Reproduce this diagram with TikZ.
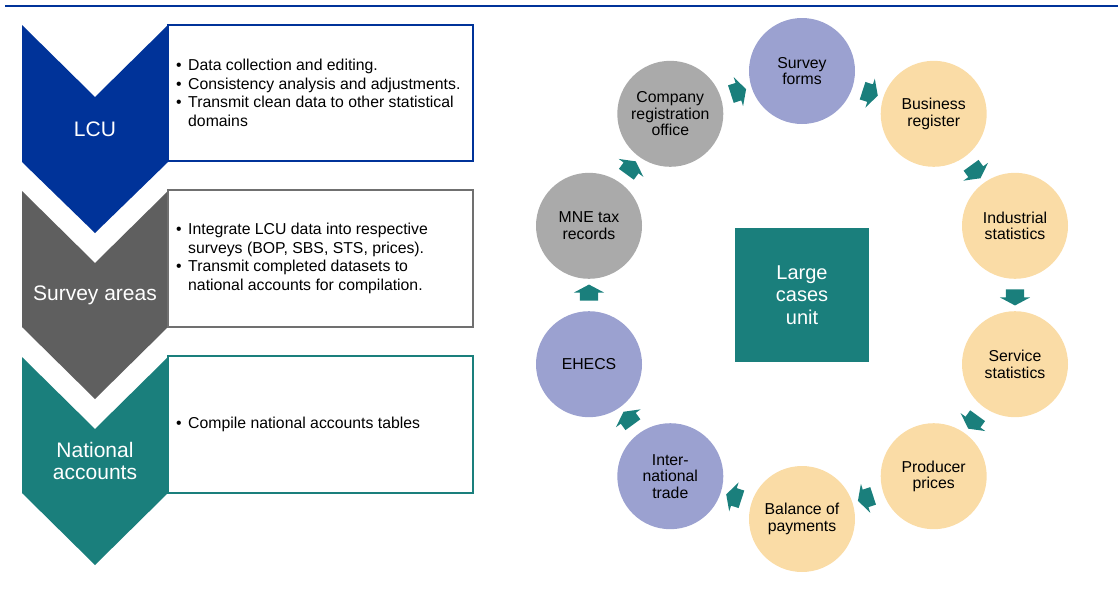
\documentclass[tikz,border=0pt]{standalone}
\usepackage{fontspec}
\setmainfont{Liberation Sans}
\usetikzlibrary{shapes.arrows,calc}
\definecolor{lcublue}{RGB}{0,51,153}
\definecolor{chgray}{RGB}{95,95,95}
\definecolor{boxgray}{RGB}{112,112,112}
\definecolor{tealc}{RGB}{26,127,124}
\definecolor{purp}{RGB}{155,161,208}
\definecolor{peach}{RGB}{250,220,166}
\definecolor{cgray}{RGB}{170,170,170}
\newcommand\mybul{\makebox[12pt][l]{\textbullet}}
\newcommand\myind{\hspace*{12pt}}
\begin{document}
\begin{tikzpicture}[x=1pt,y=-1pt,
  infobox/.style={line width=2pt, fill=white},
  chevlabel/.style={text=white, font=\fontsize{21}{22}\selectfont, align=center, inner sep=0},
  bullets/.style={anchor=west, align=left, inner sep=0, font=\fontsize{15.8}{18.5}\selectfont},
  circ/.style={circle, minimum size=106pt, inner sep=0, align=center, font=\fontsize{15.8}{16.5}\selectfont},
  purpc/.style={circ, fill=purp},
  peachc/.style={circ, fill=peach},
  grayc/.style={circ, fill=cgray},
  blockarrow/.style={single arrow, fill=tealc, inner xsep=0pt, inner ysep=9pt, minimum height=16pt,
    single arrow head extend=6pt, single arrow tip angle=124, sloped, allow upside down}
]
\useasboundingbox (0,0) rectangle (1119,590);

% top rule
\draw[lcublue, line width=2pt] (5,6) -- (1118,6);

% chevrons
\fill[lcublue] (22,25) -- (95,97) -- (168,25) -- (168,162) -- (95,233) -- (22,162) -- cycle;
\fill[chgray] (22,191) -- (95,263) -- (168,191) -- (168,327) -- (95,399) -- (22,327) -- cycle;
\fill[tealc] (22,357) -- (95,429) -- (168,357) -- (168,493) -- (95,565) -- (22,493) -- cycle;

\node[chevlabel] (lcu) at (95,129) {LCU};
\node[chevlabel] (survey) at (95,295) {Survey areas};
\node[chevlabel] (nat) at (95,461) {National\\accounts};

% boxes
\draw[infobox, draw=lcublue] (168,25) rectangle (473,161);
\draw[infobox, draw=boxgray] (168,190) rectangle (473,327);
\draw[infobox, draw=tealc] (168,356) rectangle (473,493);

\node[bullets] (t1) at (176,93) {\mybul Data collection and editing.\\
\mybul Consistency analysis and adjustments.\\
\mybul Transmit clean data to other statistical\\
\myind domains};
\node[bullets] (t2) at (176,258.5) {\mybul Integrate LCU data into respective\\
\myind surveys (BOP, SBS, STS, prices).\\
\mybul Transmit completed datasets to\\
\myind national accounts for compilation.};
\node[bullets] (t3) at (176,424) {\mybul Compile national accounts tables};

% centre box
\node[fill=tealc, minimum size=134pt, inner sep=0, text=white, align=center,
  font=\fontsize{20}{22.5}\selectfont] (lcu2) at (802,295) {Large\\cases\\unit};

% circles
\node[purpc] (c1) at (802,71) {Survey\\forms};
\node[peachc] (c2) at (933.7,113.8) {Business\\register};
\node[peachc] (c3) at (1015,225.8) {Industrial\\statistics};
\node[peachc] (c4) at (1015,364.2) {Service\\statistics};
\node[peachc] (c5) at (933.7,476.2) {Producer\\prices};
\node[peachc] (c6) at (802,519) {Balance of\\payments};
\node[purpc] (c7) at (670.3,476.2) {Inter-\\national\\trade};
\node[purpc] (c8) at (589,364.2) {EHECS};
\node[grayc] (c9) at (589,225.8) {MNE tax\\records};
\node[grayc] (c10) at (670.3,113.8) {Company\\registration\\office};

% block arrows
\path (c1) -- node[blockarrow] (a1) {} (c2);
\path (c2) -- node[blockarrow] (a2) {} (c3);
\path (c3) -- node[blockarrow] (a3) {} (c4);
\path (c4) -- node[blockarrow] (a4) {} (c5);
\path (c5) -- node[blockarrow] (a5) {} (c6);
\path (c6) -- node[blockarrow] (a6) {} (c7);
\path (c7) -- node[blockarrow] (a7) {} (c8);
\path (c8) -- node[blockarrow] (a8) {} (c9);
\path (c9) -- node[blockarrow] (a9) {} (c10);
\path (c10) -- node[blockarrow] (a10) {} (c1);
\end{tikzpicture}
\end{document}
